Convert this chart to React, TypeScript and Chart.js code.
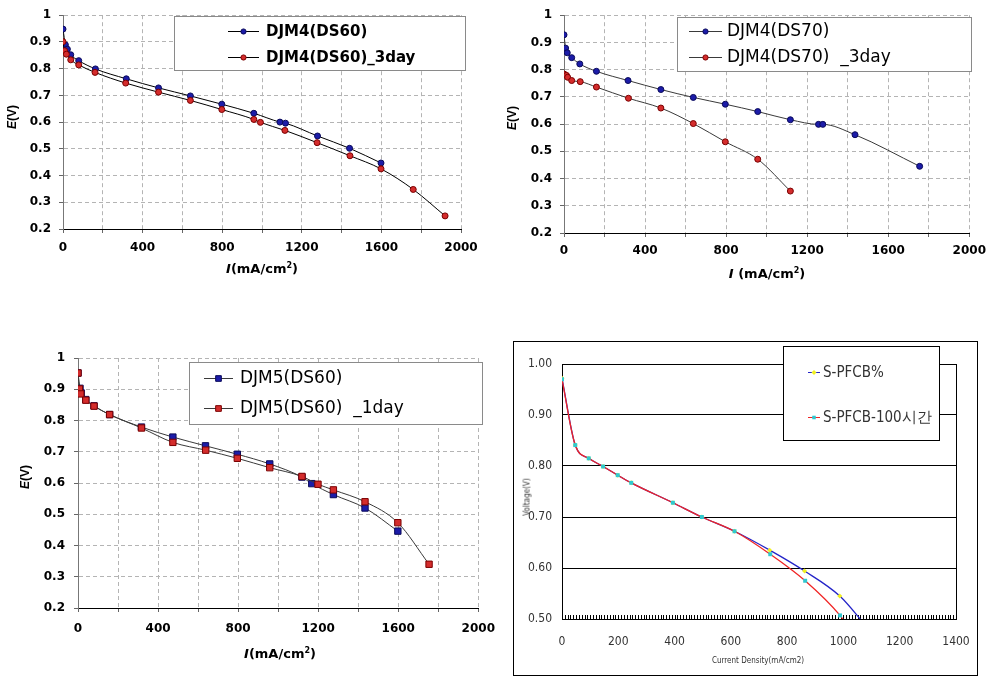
import React, { useEffect, useRef } from "react";
import { Chart, registerables } from "chart.js";
Chart.register(...registerables);

// ---------- DATA ----------
// Chart A: DJM4(DS60)
const a1Current = [0, 12, 22, 39, 79, 163, 318, 480, 640, 798, 959, 1090, 1118, 1279, 1440, 1598];
const a1Voltage = [0.948, 0.889, 0.873, 0.852, 0.830, 0.799, 0.762, 0.728, 0.698, 0.667, 0.633, 0.600, 0.596, 0.548, 0.502, 0.447];
const a2Current = [0, 8, 17, 39, 79, 161, 315, 480, 640, 798, 959, 992, 1115, 1277, 1442, 1598, 1760, 1920];
const a2Voltage = [0.901, 0.867, 0.854, 0.833, 0.814, 0.786, 0.746, 0.712, 0.681, 0.647, 0.610, 0.599, 0.569, 0.523, 0.474, 0.425, 0.348, 0.249];
const aLabels = ["DJM4(DS60)", "DJM4(DS60)_3day"];

// Chart B: DJM4(DS70)
const b1Current = [0, 8, 16, 38, 78, 160, 316, 478, 638, 796, 956, 1117, 1256, 1277, 1436, 1755];
const b1Voltage = [0.928, 0.879, 0.862, 0.844, 0.821, 0.794, 0.760, 0.727, 0.698, 0.673, 0.646, 0.616, 0.599, 0.599, 0.561, 0.445];
const b2Current = [0, 12, 18, 38, 80, 160, 318, 478, 638, 796, 956, 1117];
const b2Voltage = [0.784, 0.779, 0.772, 0.760, 0.756, 0.736, 0.695, 0.659, 0.602, 0.535, 0.471, 0.354];
const bLabels = ["DJM4(DS70)", "DJM4(DS70)  _3day"];

// Chart C: DJM5(DS60)
const c1Current = [0, 10, 16, 39, 80, 158, 317, 474, 637, 796, 958, 1119, 1168, 1276, 1434, 1598];
const c1Voltage = [0.952, 0.903, 0.888, 0.867, 0.847, 0.819, 0.779, 0.747, 0.719, 0.692, 0.661, 0.619, 0.598, 0.563, 0.520, 0.446];
const c2Current = [0, 7, 14, 39, 80, 158, 317, 474, 638, 796, 958, 1119, 1199, 1276, 1434, 1598, 1754];
const c2Voltage = [0.952, 0.901, 0.885, 0.865, 0.846, 0.819, 0.776, 0.730, 0.705, 0.679, 0.649, 0.621, 0.596, 0.578, 0.540, 0.473, 0.340];
const cLabels = ["DJM5(DS60)", "DJM5(DS60)  _1day"];

// Chart D: S-PFCB
const d1Current = [0, 47, 95, 146, 198, 246, 394, 497, 613, 738, 862, 987, 1075];
const d1Voltage = [0.972, 0.841, 0.815, 0.799, 0.782, 0.767, 0.728, 0.700, 0.672, 0.635, 0.594, 0.545, 0.490];
const d2Current = [0, 47, 95, 146, 198, 246, 394, 497, 613, 740, 864, 988, 1010];
const d2Voltage = [0.970, 0.841, 0.815, 0.799, 0.782, 0.767, 0.728, 0.700, 0.672, 0.627, 0.575, 0.507, 0.490];
const dLabels = ["S-PFCB%", "S-PFCB-100시간"];

const eTicksX = { min: 0, max: 2000, step: 200, labelStep: 400 };
const eTicksY = { min: 0.2, max: 1, step: 0.1 };
const dTicksX = { min: 0, max: 1400, step: 200 };
const dTicksY = { min: 0.5, max: 1, step: 0.1 };

const pts = (xs: number[], ys: number[]) => xs.map((x, i) => ({ x, y: ys[i] }));

// ---------- PLUGINS ----------
type LegendCfg = {
  box: [number, number, number, number];
  borderColor: string;
  rows: number[];
  lineX: [number, number];
  textX: number;
  font: string;
  textColor: string;
  order: number[];
  lineColors: string[];
  markerR: number;
};

function drawMarker(ctx: CanvasRenderingContext2D, style: string, x: number, y: number, r: number, fill: string, stroke: string, bw: number) {
  ctx.beginPath();
  if (style === "rect") {
    const s = Math.SQRT1_2 * r;
    ctx.rect(x - s, y - s, 2 * s, 2 * s);
  } else if (style === "rectRot") {
    ctx.moveTo(x, y - r);
    ctx.lineTo(x + r, y);
    ctx.lineTo(x, y + r);
    ctx.lineTo(x - r, y);
    ctx.closePath();
  } else {
    ctx.arc(x, y, r, 0, Math.PI * 2);
  }
  ctx.fillStyle = fill;
  ctx.fill();
  if (bw > 0) {
    ctx.lineWidth = bw;
    ctx.strokeStyle = stroke;
    ctx.stroke();
  }
}

function boxLegend(cfg: LegendCfg) {
  return {
    id: "boxLegend",
    afterDraw(chart: any) {
      const ctx: CanvasRenderingContext2D = chart.ctx;
      ctx.save();
      const [bx, by, bw, bh] = cfg.box;
      ctx.fillStyle = "#fff";
      ctx.fillRect(bx, by, bw, bh);
      ctx.strokeStyle = cfg.borderColor;
      ctx.lineWidth = 1;
      ctx.strokeRect(bx + 0.5, by + 0.5, bw, bh);
      cfg.order.forEach((di, k) => {
        const ds = chart.data.datasets[di];
        const y = cfg.rows[k];
        ctx.strokeStyle = cfg.lineColors[k];
        ctx.lineWidth = 1;
        ctx.beginPath();
        ctx.moveTo(cfg.lineX[0], y + 0.5);
        ctx.lineTo(cfg.lineX[1], y + 0.5);
        ctx.stroke();
        drawMarker(ctx, ds.pointStyle, (cfg.lineX[0] + cfg.lineX[1]) / 2, y + 0.5, cfg.markerR,
          ds.pointBackgroundColor, ds.pointBorderColor, ds.pointBorderWidth);
        ctx.fillStyle = cfg.textColor;
        ctx.font = cfg.font;
        ctx.textBaseline = "middle";
        ctx.textAlign = "left";
        ctx.fillText(ds.label, cfg.textX, y + 1);
      });
      ctx.restore();
    },
  };
}

const frameD = {
  id: "frameD",
  beforeDraw(chart: any) {
    const ctx: CanvasRenderingContext2D = chart.ctx;
    ctx.save();
    ctx.fillStyle = "#fff";
    ctx.fillRect(0, 0, chart.width, chart.height);
    ctx.strokeStyle = "#000";
    ctx.lineWidth = 1;
    ctx.strokeRect(8.5, 11.5, 464, 334);
    ctx.restore();
  },
  beforeDatasetsDraw(chart: any) {
    const ctx: CanvasRenderingContext2D = chart.ctx;
    const { chartArea, scales } = chart;
    ctx.save();
    ctx.strokeStyle = "#000";
    ctx.lineWidth = 1;
    ctx.beginPath();
    const rx = Math.round(chartArea.right) + 0.5;
    ctx.moveTo(rx, chartArea.top);
    ctx.lineTo(rx, chartArea.bottom);
    for (let v = 10; v < dTicksX.max; v += 10) {
      const x = Math.round(scales.x.getPixelForValue(v)) + 0.5;
      ctx.moveTo(x, chartArea.bottom);
      ctx.lineTo(x, chartArea.bottom - 4);
    }
    ctx.stroke();
    ctx.restore();
  },
};

// ---------- CONFIG BUILDERS ----------
const tickFont = { family: "'DejaVu Sans'", size: 12, weight: "bold" as const };

function eConfig(opts: {
  s1: { x: number; y: number }[];
  s2: { x: number; y: number }[];
  labels: string[];
  lineColor: string;
  pointStyle: string;
  radius: number;
  pad: { left: number; top: number; right: number };
  yWidth: number;
  xHeight: number;
  xPad: number;
  yPad: number;
  legend: LegendCfg;
}) {
  const blue = {
    label: opts.labels[0],
    data: opts.s1,
    showLine: true,
    borderColor: opts.lineColor,
    borderWidth: 1,
    pointStyle: opts.pointStyle,
    pointRadius: opts.radius,
    pointBackgroundColor: "#1c1ca8",
    pointBorderColor: "#0a0a5a",
    pointBorderWidth: 1,
    cubicInterpolationMode: "monotone",
    order: 1,
  };
  const red = {
    label: opts.labels[1],
    data: opts.s2,
    showLine: true,
    borderColor: opts.lineColor,
    borderWidth: 1,
    pointStyle: opts.pointStyle,
    pointRadius: opts.radius,
    pointBackgroundColor: "#d42c2c",
    pointBorderColor: "#7a0000",
    pointBorderWidth: 1,
    cubicInterpolationMode: "monotone",
    order: 0,
  };
  return {
    type: "scatter",
    data: { datasets: [blue, red] },
    options: {
      responsive: false,
      animation: false,
      devicePixelRatio: 1,
      layout: { padding: { left: opts.pad.left, top: opts.pad.top, right: opts.pad.right, bottom: 0 } },
      plugins: { legend: { display: false }, tooltip: { enabled: false } },
      scales: {
        x: {
          type: "linear",
          min: eTicksX.min,
          max: eTicksX.max,
          afterFit: (s: any) => { s.height = opts.xHeight; },
          ticks: {
            stepSize: eTicksX.step,
            autoSkip: false,
            maxRotation: 0,
            padding: opts.xPad,
            color: "#000",
            font: tickFont,
            callback: (v: number) => (v % eTicksX.labelStep === 0 ? String(v) : ""),
          },
          grid: { color: "#b4b4b4", lineWidth: 1, tickColor: "#666", tickLength: 4 },
          border: { display: true, color: "#000", width: 1, dash: [4, 3] },
        },
        y: {
          type: "linear",
          min: eTicksY.min,
          max: eTicksY.max,
          afterFit: (s: any) => { s.width = opts.yWidth; },
          ticks: {
            stepSize: eTicksY.step,
            padding: opts.yPad,
            color: "#000",
            font: tickFont,
            callback: (v: number) => String(Number(v.toFixed(1))),
          },
          grid: { color: "#b4b4b4", lineWidth: 1, tickColor: "#666", tickLength: 4 },
          border: { display: true, color: "#777", width: 1, dash: [4, 3] },
        },
      },
    },
    plugins: [boxLegend(opts.legend)],
  };
}

const narrow = "'Liberation Sans Narrow', 'DejaVu Sans Condensed', sans-serif";

function dConfig() {
  const blue = {
    label: dLabels[0],
    data: pts(d1Current, d1Voltage),
    showLine: true,
    borderColor: "#2424c8",
    borderWidth: 1.3,
    pointStyle: "rectRot",
    pointRadius: 2.5,
    pointBackgroundColor: "#f0f020",
    pointBorderColor: "#f0f020",
    pointBorderWidth: 0,
    cubicInterpolationMode: "monotone",
    order: 1,
  };
  const red = {
    label: dLabels[1],
    data: pts(d2Current, d2Voltage),
    showLine: true,
    borderColor: "#f02424",
    borderWidth: 1.3,
    pointStyle: "rect",
    pointRadius: 2.8,
    pointBackgroundColor: "#30c8d0",
    pointBorderColor: "#30c8d0",
    pointBorderWidth: 0,
    cubicInterpolationMode: "monotone",
    order: 0,
  };
  return {
    type: "scatter",
    data: { datasets: [blue, red] },
    options: {
      responsive: false,
      animation: false,
      devicePixelRatio: 1,
      layout: { padding: { left: 0, top: 34, right: 37, bottom: 0 } },
      plugins: { legend: { display: false }, tooltip: { enabled: false } },
      scales: {
        x: {
          type: "linear",
          min: dTicksX.min,
          max: dTicksX.max,
          afterFit: (s: any) => { s.height = 62; },
          ticks: {
            stepSize: dTicksX.step,
            autoSkip: false,
            maxRotation: 0,
            padding: 16,
            color: "#333",
            font: { family: narrow, size: 12 },
            callback: (v: number) => String(v),
          },
          grid: { display: false, drawTicks: false },
          border: { display: true, color: "#000", width: 1 },
        },
        y: {
          type: "linear",
          min: dTicksY.min,
          max: dTicksY.max,
          afterFit: (s: any) => { s.width = 57; },
          ticks: {
            stepSize: dTicksY.step,
            padding: 10,
            color: "#333",
            font: { family: narrow, size: 12 },
            callback: (v: number) => v.toFixed(2),
          },
          grid: { color: "#000", lineWidth: 1, drawTicks: false },
          border: { display: true, color: "#000", width: 1 },
        },
      },
    },
    plugins: [
      frameD,
      boxLegend({
        box: [278, 16, 156, 94],
        borderColor: "#000",
        rows: [42, 87],
        lineX: [303, 315],
        textX: 318,
        font: `15px ${narrow}`,
        textColor: "#333",
        order: [0, 1],
        lineColors: ["#2424c8", "#f02424"],
        markerR: 2.5,
      }),
    ],
  };
}

// ---------- COMPONENTS ----------
function ChartBox({ left, top, width, height, build }: { left: number; top: number; width: number; height: number; build: () => any }) {
  const ref = useRef<HTMLCanvasElement>(null);
  useEffect(() => {
    const chart = new Chart(ref.current as HTMLCanvasElement, build());
    return () => chart.destroy();
  }, []);
  return (
    <canvas
      ref={ref}
      width={width}
      height={height}
      style={{ position: "absolute", left, top, width, height }}
    />
  );
}

const xTitleStyle: React.CSSProperties = {
  position: "absolute",
  transform: "translate(-50%, -50%)",
  font: "bold 13px 'DejaVu Sans'",
  whiteSpace: "nowrap",
  color: "#000",
};
const yTitleStyle: React.CSSProperties = {
  position: "absolute",
  transform: "translate(-50%, -50%) rotate(-90deg)",
  font: "bold 12px 'Liberation Sans', Arial",
  whiteSpace: "nowrap",
  color: "#000",
};
const supStyle: React.CSSProperties = { fontSize: 8, position: "relative", top: -5 };

function XTitle({ x, y, space }: { x: number; y: number; space?: boolean }) {
  return (
    <div style={{ ...xTitleStyle, left: x, top: y }}>
      <i>I</i>
      {space ? " " : ""}(mA/cm<span style={supStyle}>2</span>)
    </div>
  );
}
function YTitle({ x, y }: { x: number; y: number }) {
  return (
    <div style={{ ...yTitleStyle, left: x, top: y }}>
      <i>E</i>(V)
    </div>
  );
}

export default function App() {
  const buildA = () =>
    eConfig({
      s1: pts(a1Current, a1Voltage),
      s2: pts(a2Current, a2Voltage),
      labels: aLabels,
      lineColor: "#000",
      pointStyle: "circle",
      radius: 3,
      pad: { left: 0, top: 13, right: 39 },
      yWidth: 63,
      xHeight: 71,
      xPad: 8,
      yPad: 8,
      legend: {
        box: [174, 16, 291, 54],
        borderColor: "#8a8a8a",
        rows: [31, 57],
        lineX: [228, 259],
        textX: 266,
        font: "bold 15px 'DejaVu Sans'",
        textColor: "#000",
        order: [0, 1],
        lineColors: ["#000", "#000"],
        markerR: 2.6,
      },
    });
  const buildB = () =>
    eConfig({
      s1: pts(b1Current, b1Voltage),
      s2: pts(b2Current, b2Voltage),
      labels: bLabels,
      lineColor: "#3a3a3a",
      pointStyle: "circle",
      radius: 3,
      pad: { left: 0, top: 13, right: 20 },
      yWidth: 64,
      xHeight: 67,
      xPad: 7,
      yPad: 8,
      legend: {
        box: [177, 17, 294, 54],
        borderColor: "#8a8a8a",
        rows: [31, 57],
        lineX: [189, 222],
        textX: 227,
        font: "17px 'DejaVu Sans'",
        textColor: "#000",
        order: [0, 1],
        lineColors: ["#3a3a3a", "#3a3a3a"],
        markerR: 2.6,
      },
    });
  const buildC = () =>
    eConfig({
      s1: pts(c1Current, c1Voltage),
      s2: pts(c2Current, c2Voltage),
      labels: cLabels,
      lineColor: "#3a3a3a",
      pointStyle: "rect",
      radius: 4.5,
      pad: { left: 0, top: 38, right: 21 },
      yWidth: 78,
      xHeight: 73,
      xPad: 10,
      yPad: 9,
      legend: {
        box: [189, 42, 293, 62],
        borderColor: "#8a8a8a",
        rows: [58, 88],
        lineX: [204, 233],
        textX: 240,
        font: "17px 'DejaVu Sans'",
        textColor: "#000",
        order: [0, 1],
        lineColors: ["#3a3a3a", "#3a3a3a"],
        markerR: 4,
      },
    });

  return (
    <div style={{ position: "absolute", left: 0, top: 0, width: 993, height: 681, background: "#fff", overflow: "hidden" }}>
      <ChartBox left={0} top={0} width={500} height={300} build={buildA} />
      <ChartBox left={500} top={0} width={493} height={300} build={buildB} />
      <ChartBox left={0} top={320} width={505} height={361} build={buildC} />
      <ChartBox left={505} top={330} width={488} height={351} build={dConfig} />
      <XTitle x={262} y={268} />
      <YTitle x={12} y={117} />
      <XTitle x={767} y={273} space />
      <YTitle x={512} y={118} />
      <XTitle x={280} y={653} />
      <YTitle x={25} y={477} />
      <div style={{ position: "absolute", left: 758, top: 660, transform: "translate(-50%, -50%)", font: `8px ${narrow}`, color: "#333", whiteSpace: "nowrap" }}>
        Current Density(mA/cm2)
      </div>
      <div style={{ position: "absolute", left: 527, top: 497, transform: "translate(-50%, -50%) rotate(-90deg)", font: `8px ${narrow}`, color: "#333", whiteSpace: "nowrap" }}>
        Voltage(V)
      </div>
    </div>
  );
}
